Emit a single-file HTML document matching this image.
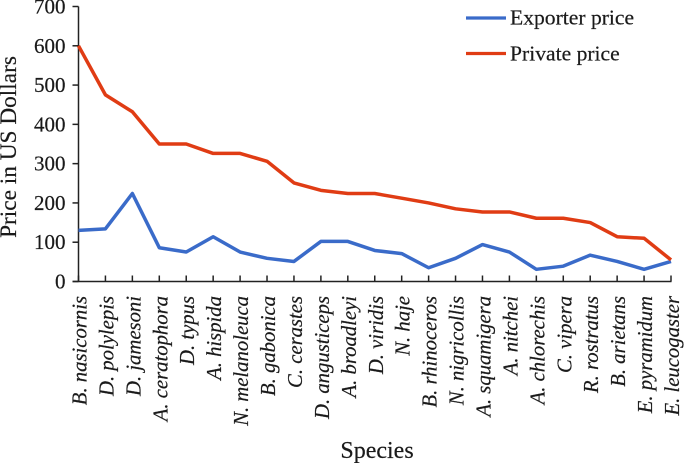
<!DOCTYPE html>
<html>
<head>
<meta charset="utf-8">
<style>
html,body{margin:0;padding:0;background:#fff;width:685px;height:463px;overflow:hidden}
svg{display:block}
text{font-family:"Liberation Serif","DejaVu Serif",serif;fill:#1a1a1a;stroke:#1a1a1a;stroke-width:0.2}
</style>
</head>
<body>
<svg id="chart" width="685" height="463" viewBox="0 0 685 463" xmlns="http://www.w3.org/2000/svg">
  <g id="marks"></g>
  <text transform="translate(16,147) rotate(-90)" text-anchor="middle" font-size="23.3">Price in US Dollars</text>
  <text x="377" y="458" text-anchor="middle" font-size="24">Species</text>
  <g>
    <line x1="466" y1="18" x2="506" y2="18" stroke="#3a6bc9" stroke-width="3.2"/>
    <text x="510" y="24.5" font-size="21.6">Exporter price</text>
    <line x1="466" y1="53.5" x2="506" y2="53.5" stroke="#e03c14" stroke-width="3.2"/>
    <text x="510" y="60.5" font-size="21.6">Private price</text>
  </g>
</svg>
<script>
const species = ["B. nasicornis","D. polylepis","D. jamesoni","A. ceratophora","D. typus","A. hispida","N. melanoleuca","B. gabonica","C. cerastes","D. angusticeps","A. broadleyi","D. viridis","N. haje","B. rhinoceros","N. nigricollis","A. squamigera","A. nitchei","A. chlorechis","C. vipera","R. rostratus","B. arietans","E. pyramidum","E. leucogaster"];
const exporterPrice = [130,134,224,86,75,114,75,59,51,102,102,79,71,35,59,94,75,31,39,67,51,31,51];
const privatePrice = [600,475,432,350,350,326,326,306,251,232,224,224,212,200,185,177,177,161,161,150,114,110,55];
const yTicks = [0,100,200,300,400,500,600,700];

const NS = "http://www.w3.org/2000/svg";
const root = document.getElementById("marks");
const xLeft = 78.5, xRight = 671, yBase = 281.5, yTop = 6.5, yMax = 700;
function xPos(i){ return xLeft + (xRight - xLeft) * i / (species.length - 1); }
function yPos(v){ return yBase - (yBase - yTop) * v / yMax; }
function make(tag, attrs){
  const el = document.createElementNS(NS, tag);
  for (const k in attrs) el.setAttribute(k, attrs[k]);
  root.appendChild(el);
  return el;
}

const yAxis = make("line", {x1:xLeft, y1:yTop, x2:xLeft, y2:yBase, stroke:"#222", "stroke-width":1.5});


const xAxis = make("line", {x1:xLeft-6, y1:yBase, x2:xRight+0.5, y2:yBase, stroke:"#222", "stroke-width":1.5});



yTicks.forEach(function(t){
  const tick = make("line", {x1:xLeft-6, y1:yPos(t), x2:xLeft, y2:yPos(t), stroke:"#222", "stroke-width":1.5});
  
  
  const label = make("text", {x:xLeft-13, y:yPos(t)+7, "text-anchor":"end", "font-size":21});
  label.textContent = t;
  
  
});

species.forEach(function(s, i){
  const x = xPos(i);
  const tick = make("line", {x1:x, y1:yBase-6, x2:x, y2:yBase, stroke:"#222", "stroke-width":1.5});
  
  
  const label = make("text", {transform:"translate("+(x+8)+",296) rotate(-90)", "text-anchor":"end", "font-size":20.7, "font-style":"italic"});
  label.textContent = s;
  
  
});

function pointsFor(values){
  return values.map(function(v, i){ return xPos(i).toFixed(2) + "," + yPos(v).toFixed(2); }).join(" ");
}
const exporterLine = make("polyline", {points:pointsFor(exporterPrice), fill:"none", stroke:"#3a6bc9", "stroke-width":3.5, "stroke-linejoin":"round"});


const privateLine = make("polyline", {points:pointsFor(privatePrice), fill:"none", stroke:"#e03c14", "stroke-width":3.5, "stroke-linejoin":"round"});


</script>
</body>
</html>
